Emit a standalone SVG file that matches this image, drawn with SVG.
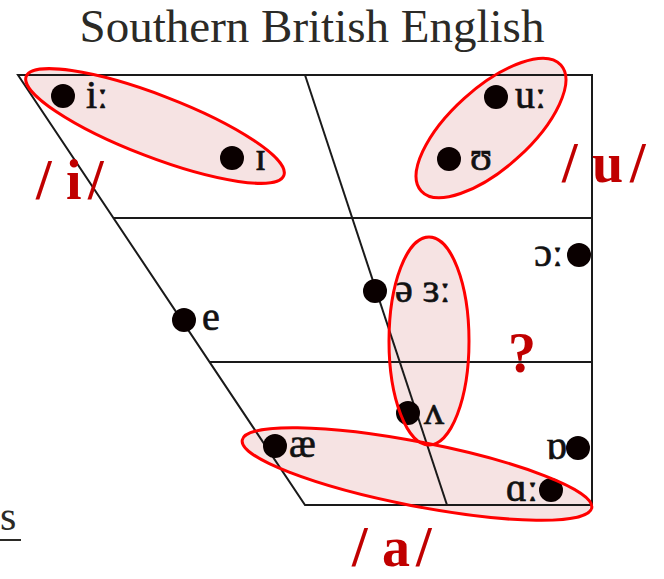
<svg xmlns="http://www.w3.org/2000/svg" width="664" height="579" viewBox="0 0 664 579">
<style>
.frame{stroke:#1a1a1a;stroke-width:2;fill:none}
.dot{fill:#0a0000}
.ipa{font-family:"Liberation Serif","DejaVu Serif",serif;font-size:40px;fill:#111;stroke:#111;stroke-width:0.7}
.fillg{fill:#f6e3e3;stroke:none}
.lineg{fill:none;stroke:#ff0000;stroke-width:3}
.lab{font-family:"Liberation Serif","DejaVu Serif",serif;font-weight:bold;font-size:56px;fill:#c00000}
.title{font-family:"Liberation Serif","DejaVu Serif",serif;font-size:47px;fill:#2b2a26}
</style>
<defs>
<ellipse id="e-i" cx="155" cy="126" rx="138" ry="31" transform="rotate(21 155 126)"/>
<ellipse id="e-u" cx="491" cy="128" rx="94" ry="40" transform="rotate(-42 491 128)"/>
<ellipse id="e-mid" cx="429" cy="341" rx="40" ry="104"/>
<ellipse id="e-a" cx="417" cy="474" rx="178" ry="32" transform="rotate(11 417 474)"/>
</defs>
<rect width="664" height="579" fill="#fff"/>
<text class="title" x="312" y="42" text-anchor="middle">Southern British English</text>
<g id="group-fills">
<use href="#e-i" class="fillg"/><use href="#e-u" class="fillg"/><use href="#e-mid" class="fillg"/><use href="#e-a" class="fillg"/>
</g>
<g id="connectors">
<path class="frame" d="M18 75 H592 V505 H305 Z"/>
<line class="frame" x1="113" y1="218" x2="592" y2="218"/>
<line class="frame" x1="209" y1="362" x2="592" y2="362"/>
<line class="frame" x1="305" y1="75" x2="447" y2="505"/>
</g>
<g id="v-i"><circle class="dot" cx="63" cy="96" r="12"/><text class="ipa" x="86" y="108">iː</text></g>
<g id="v-I"><circle class="dot" cx="232" cy="158" r="12"/><text class="ipa" x="255" y="170">ɪ</text></g>
<g id="v-u"><circle class="dot" cx="496" cy="97" r="12"/><text class="ipa" x="515" y="108">uː</text></g>
<g id="v-U"><circle class="dot" cx="449" cy="159" r="12"/><text class="ipa" x="470" y="170">ʊ</text></g>
<g id="v-o"><circle class="dot" cx="579" cy="255" r="12"/><text class="ipa" x="563" y="266" text-anchor="end">ɔː</text></g>
<g id="v-schwa"><circle class="dot" cx="375" cy="291" r="12"/><text class="ipa" x="395" y="302">ə ɜː</text></g>
<g id="v-e"><circle class="dot" cx="184" cy="320" r="12"/><text class="ipa" x="202" y="330">e</text></g>
<g id="v-wedge"><circle class="dot" cx="408" cy="413" r="12"/><text class="ipa" x="424" y="424">ʌ</text></g>
<g id="v-ae"><circle class="dot" cx="275" cy="446" r="12"/><text class="ipa" x="289" y="457">æ</text></g>
<g id="v-O"><circle class="dot" cx="578" cy="448" r="12"/><text class="ipa" x="567" y="459" text-anchor="end">ɒ</text></g>
<g id="v-a"><circle class="dot" cx="551" cy="490" r="12"/><text class="ipa" x="538" y="501" text-anchor="end">ɑː</text></g>
<g id="group-outlines">
<use href="#e-i" class="lineg"/><use href="#e-u" class="lineg"/><use href="#e-mid" class="lineg"/><use href="#e-a" class="lineg"/>
</g>
<text class="lab" y="199"><tspan x="36">/</tspan><tspan x="66">i</tspan><tspan x="88">/</tspan></text>
<text class="lab" y="182"><tspan x="562">/</tspan><tspan x="592">u</tspan><tspan x="630">/</tspan></text>
<text class="lab" x="522" y="372" font-size="42" text-anchor="middle">?</text>
<text class="lab" y="566"><tspan x="352">/</tspan><tspan x="382">a</tspan><tspan x="416">/</tspan></text>
<text x="0" y="530" font-family="Liberation Serif, serif" font-size="42" fill="#2b2a26">s</text>
<line x1="0" y1="540" x2="21" y2="540" stroke="#2b2a26" stroke-width="2"/>
</svg>
